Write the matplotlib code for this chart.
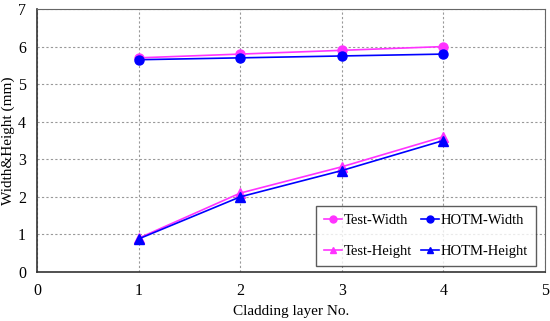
import matplotlib
matplotlib.use("Agg")
import matplotlib.pyplot as plt

plt.rcParams['font.family'] = ['Liberation Serif', 'DejaVu Serif']

layers = [1, 2, 3, 4]
test_width = [5.70, 5.80, 5.90, 6.00]
hotm_width = [5.65, 5.70, 5.75, 5.80]
test_height = [0.90, 2.10, 2.80, 3.60]
hotm_height = [0.88, 2.00, 2.70, 3.50]

fig = plt.figure(figsize=(5.5, 3.21), dpi=100)
ax = fig.add_axes([37/550, 1-272/321, (545-37)/550, (272-9)/321])

pink = '#ff33ff'
blue = '#0000ff'
l1, = ax.plot(layers, test_width, color=pink, marker='o', ms=6.5, lw=1.2, label='Test-Width', zorder=3)
l2, = ax.plot(layers, hotm_width, color=blue, marker='o', ms=6.5, lw=1.2, label='HOTM-Width', zorder=3)
l3, = ax.plot(layers, test_height, color=pink, marker='^', ms=6.5, lw=1.2, label='Test-Height', zorder=3)
l4, = ax.plot(layers, hotm_height, color=blue, marker='^', ms=6.5, lw=1.2, label='HOTM-Height', zorder=3)

ax.set_xlim(0, 5)
ax.set_ylim(0, 7)
ax.set_xticks([0, 1, 2, 3, 4, 5])
ax.set_yticks(range(0, 8))
ax.grid(True, color='#999999', linestyle=(0, (2, 2)), linewidth=0.8)
ax.tick_params(length=0, labelsize=11.5, pad=8)
for s in ['top', 'right']:
    ax.spines[s].set_color('#666666')
for s in ['left', 'bottom']:
    ax.spines[s].set_color('#333333')
    ax.spines[s].set_linewidth(1.2)

ax.set_xlabel('Cladding layer No.', fontsize=11, labelpad=4)
ax.set_ylabel('Width&Height (mm)', fontsize=11, labelpad=2)

leg = ax.legend([l1, l3, l2, l4], ['Test-Width', 'Test-Height', 'HOTM-Width', 'HOTM-Height'],
                loc='lower right', ncol=2, fontsize=10.5, frameon=True, fancybox=False,
                edgecolor='#333333', handlelength=1.2, handletextpad=0.15,
                columnspacing=0.6, labelspacing=1.2, borderpad=0.55, borderaxespad=0,
                bbox_to_anchor=(499/508, 6/263))
leg.get_frame().set_linewidth(1.0)
for h in leg.legend_handles:
    h.set_markersize(5)

fig.savefig('out.png', dpi=100)
